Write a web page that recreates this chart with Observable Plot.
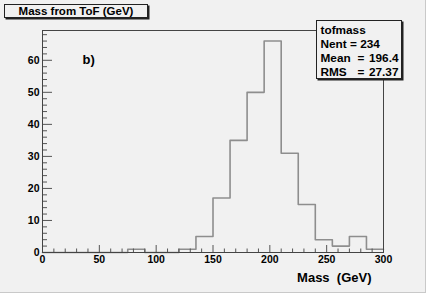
<!DOCTYPE html>
<html><head><meta charset="utf-8">
<script src="https://cdn.jsdelivr.net/npm/d3@7"></script>
<script src="https://cdn.jsdelivr.net/npm/@observablehq/plot@0.6"></script>
<style>
html,body{margin:0;padding:0;background:#f1f1f1;}
svg text{white-space:pre;}
</style></head><body><div id="chart"></div>
<script>
// Histogram data (bin edges in GeV, counts per bin)
const binEdges = [0,15,30,45,60,75,90,105,120,135,150,165,180,195,210,225,240,255,270,285,300];
const counts   = [0,0,0,0,0,1,0,0,1,5,17,35,50,66,31,15,4,2,5,1];
// Axis ticks
const xMajor = [0,50,100,150,200,250,300];
const xMinor = [10,20,30,40,60,70,80,90,110,120,130,140,160,170,180,190,210,220,230,240,260,270,280,290];
const yMajor = [0,10,20,30,40,50,60];
const yMinor = [2,4,6,8,12,14,16,18,22,24,26,28,32,34,36,38,42,44,46,48,52,54,56,58,62,64,66,68];
// Texts
const titleText = "Mass from ToF (GeV)";
const panelLabel = "b)";
const xLabel = "Mass  (GeV)";
const statName = "tofmass";
const statNent = "Nent = 234";
const statKeys = ["Mean", "RMS"];
const statVals = ["196.4", "27.37"];

const steps = binEdges.map((x, i) => ({x, y: counts[Math.min(i, counts.length - 1)]}));

const font = "Liberation Sans, Arial, Helvetica, sans-serif";
const bg = "#f1f1f1";
const tickColor = "#555";

const chart = Plot.plot({
  width: 426, height: 293,
  marginLeft: 42, marginRight: 43, marginTop: 30, marginBottom: 41,
  style: {background: bg, fontFamily: font, fontWeight: "bold", fontSize: "10.5px", color: "#000"},
  x: {domain: [0, 300], label: null},
  y: {domain: [0, 69.3], label: null},
  marks: [
    Plot.line(steps, {x: "x", y: "y", curve: "step-after", stroke: "#8e8e8e", strokeWidth: 1.6}),
    // inward ticks
    Plot.ruleX(xMajor, {x: d => d, y1: 0, y2: 0, insetBottom: 7, stroke: tickColor}),
    Plot.ruleX(xMinor, {x: d => d, y1: 0, y2: 0, insetBottom: 3.5, stroke: tickColor}),
    Plot.ruleY(yMajor, {y: d => d, x1: 0, x2: 0, insetRight: -10, stroke: tickColor}),
    Plot.ruleY(yMinor, {y: d => d, x1: 0, x2: 0, insetRight: -5, stroke: tickColor}),
    Plot.axisX({ticks: xMajor, tickSize: 0, tickPadding: 3, fontWeight: "bold", fontSize: 10.5}),
    Plot.axisY({ticks: yMajor, tickSize: 0, tickPadding: 3, fontWeight: "bold", fontSize: 10.5}),
    Plot.frame({stroke: "#444"}),
    Plot.text([xLabel], {frameAnchor: "bottom-right", dx: -12, dy: 29, textAnchor: "end", lineAnchor: "bottom", fontSize: 13, fontWeight: "bold"}),
    Plot.text([panelLabel], {frameAnchor: "top-left", dx: 40, dy: 33, textAnchor: "start", lineAnchor: "bottom", fontSize: 13, fontWeight: "bold"}),
    // stat box
    Plot.frame({insetLeft: 274, insetRight: -18, insetTop: -10, insetBottom: 174, fill: "#222", stroke: "#222", dx: 1.5, dy: 1.5}),
    Plot.frame({insetLeft: 274, insetRight: -18, insetTop: -10, insetBottom: 174, fill: bg, stroke: "#222"}),
    Plot.text([statName], {frameAnchor: "top-left", dx: 278, dy: 3, textAnchor: "start", lineAnchor: "bottom", fontSize: 11.8, fontWeight: "bold"}),
    Plot.text([statNent], {frameAnchor: "top-left", dx: 278, dy: 17, textAnchor: "start", lineAnchor: "bottom", fontSize: 11.8, fontWeight: "bold"}),
    Plot.text([statKeys[0]], {frameAnchor: "top-left", dx: 278, dy: 31, textAnchor: "start", lineAnchor: "bottom", fontSize: 11.8, fontWeight: "bold"}),
    Plot.text([statKeys[1]], {frameAnchor: "top-left", dx: 278, dy: 45, textAnchor: "start", lineAnchor: "bottom", fontSize: 11.8, fontWeight: "bold"}),
    Plot.text(["="], {frameAnchor: "top-left", dx: 315, dy: 31, textAnchor: "start", lineAnchor: "bottom", fontSize: 11.8, fontWeight: "bold"}),
    Plot.text(["="], {frameAnchor: "top-left", dx: 315, dy: 45, textAnchor: "start", lineAnchor: "bottom", fontSize: 11.8, fontWeight: "bold"}),
    Plot.text([statVals[0]], {frameAnchor: "top-left", dx: 356, dy: 31, textAnchor: "end", lineAnchor: "bottom", fontSize: 11.8, fontWeight: "bold"}),
    Plot.text([statVals[1]], {frameAnchor: "top-left", dx: 356, dy: 45, textAnchor: "end", lineAnchor: "bottom", fontSize: 11.8, fontWeight: "bold"}),
    // title box
    Plot.frame({insetLeft: -38, insetRight: 236, insetTop: -26, insetBottom: 235, fill: "#222", stroke: "#222", dx: 1.5, dy: 1.5}),
    Plot.frame({insetLeft: -38, insetRight: 236, insetTop: -26, insetBottom: 235, fill: bg, stroke: "#222"}),
    Plot.text([titleText], {frameAnchor: "top-left", dx: 33.5, dy: -15.3, textAnchor: "middle", lineAnchor: "bottom", fontSize: 11.5, fontWeight: "bold"})
  ]
});
document.getElementById("chart").appendChild(chart);
// canvas border (ROOT style)
const svg = d3.select(chart);
svg.append("line").attr("x1", 0).attr("x2", 426).attr("y1", 292.5).attr("y2", 292.5).attr("stroke", "#c9c9c9");
svg.append("line").attr("x1", 425.5).attr("x2", 425.5).attr("y1", 0).attr("y2", 293).attr("stroke", "#c9c9c9");
</script></body></html>
